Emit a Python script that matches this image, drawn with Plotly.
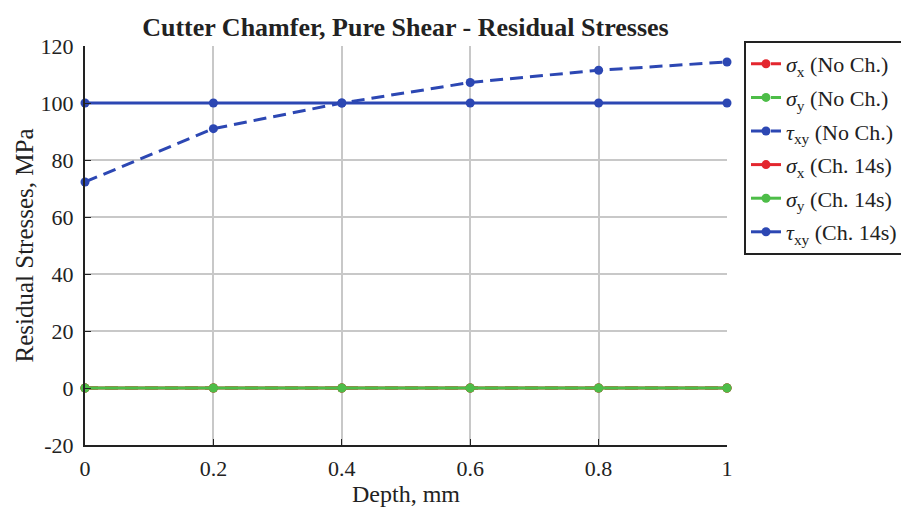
import plotly.graph_objects as go

depth = [0, 0.2, 0.4, 0.6, 0.8, 1.0]
sx_noch = [0, 0, 0, 0, 0, 0]
sy_noch = [0, 0, 0, 0, 0, 0]
txy_noch = [72.3, 91.0, 100.0, 107.2, 111.5, 114.4]
sx_ch = [0, 0, 0, 0, 0, 0]
sy_ch = [0, 0, 0, 0, 0, 0]
txy_ch = [100, 100, 100, 100, 100, 100]
x_ticks = ["0", "0.2", "0.4", "0.6", "0.8", "1"]
y_vals = [-20, 0, 20, 40, 60, 80, 100, 120]
y_ticks = ["-20", "0", "20", "40", "60", "80", "100", "120"]

RED = "#e3262e"
GREEN = "#4dbd48"
BLUE = "#2c47b3"

def lab(sym, sub, rest):
    return f"<i>{sym}</i><sub>{sub}</sub> {rest}"

series = [
    (lab("σ", "x", "(No Ch.)"), sx_noch, RED, "13px,7px"),
    (lab("σ", "y", "(No Ch.)"), sy_noch, GREEN, "13px,7px"),
    (lab("τ", "xy", "(No Ch.)"), txy_noch, BLUE, "13px,7px"),
    (lab("σ", "x", "(Ch. 14s)"), sx_ch, RED, "solid"),
    (lab("σ", "y", "(Ch. 14s)"), sy_ch, GREEN, "solid"),
    (lab("τ", "xy", "(Ch. 14s)"), txy_ch, BLUE, "solid"),
]

FONT = "Liberation Serif, Times New Roman, serif"
INK = "#222"

fig = go.Figure()
for i, (name, ys, col, dash) in enumerate(series):
    fig.add_trace(go.Scatter(
        x=depth, y=ys, name=name, mode="lines+markers",
        legendgroup=f"g{i}",
        line=dict(color=col, width=3, dash=dash),
        marker=dict(color=col, size=9),
        cliponaxis=False,
    ))

fig.update_layout(
    width=901, height=511,
    margin=dict(l=85, r=174, t=46, b=66),
    paper_bgcolor="white", plot_bgcolor="white",
    font=dict(family=FONT, size=21, color=INK),
    title=dict(text="<b>Cutter Chamfer, Pure Shear - Residual Stresses</b>",
               x=0.45, xanchor="center", y=0.965, yanchor="top",
               font=dict(family=FONT, size=26, color=INK)),
    xaxis=dict(range=[0, 1], tickvals=depth, ticktext=x_ticks,
               showgrid=True, gridcolor="#c8c8c8", gridwidth=1.5,
               showline=True, linecolor=INK, linewidth=2,
               ticks="inside", ticklen=6, tickcolor=INK, zeroline=False,
               ticklabelstandoff=3,
               title=dict(text="Depth, mm", standoff=2,
                          font=dict(family=FONT, size=24, color=INK)),
               tickfont=dict(family=FONT, size=22, color=INK)),
    yaxis=dict(range=[-20, 120], tickvals=y_vals, ticktext=y_ticks,
               showgrid=True, gridcolor="#c8c8c8", gridwidth=1.5,
               showline=True, linecolor=INK, linewidth=2,
               ticks="inside", ticklen=6, tickcolor=INK, zeroline=False,
               ticklabelstandoff=5,
               title=dict(text="Residual Stresses, MPa", standoff=0,
                          font=dict(family=FONT, size=25, color=INK)),
               tickfont=dict(family=FONT, size=22, color=INK)),
    legend=dict(xref="container", yref="container",
                x=744 / 901, xanchor="left", y=1 - 41 / 511, yanchor="top",
                bordercolor=INK, borderwidth=2, bgcolor="white",
                font=dict(family=FONT, size=22, color=INK), tracegroupgap=2,
                itemwidth=30),
)

fig.write_html("out.html")
